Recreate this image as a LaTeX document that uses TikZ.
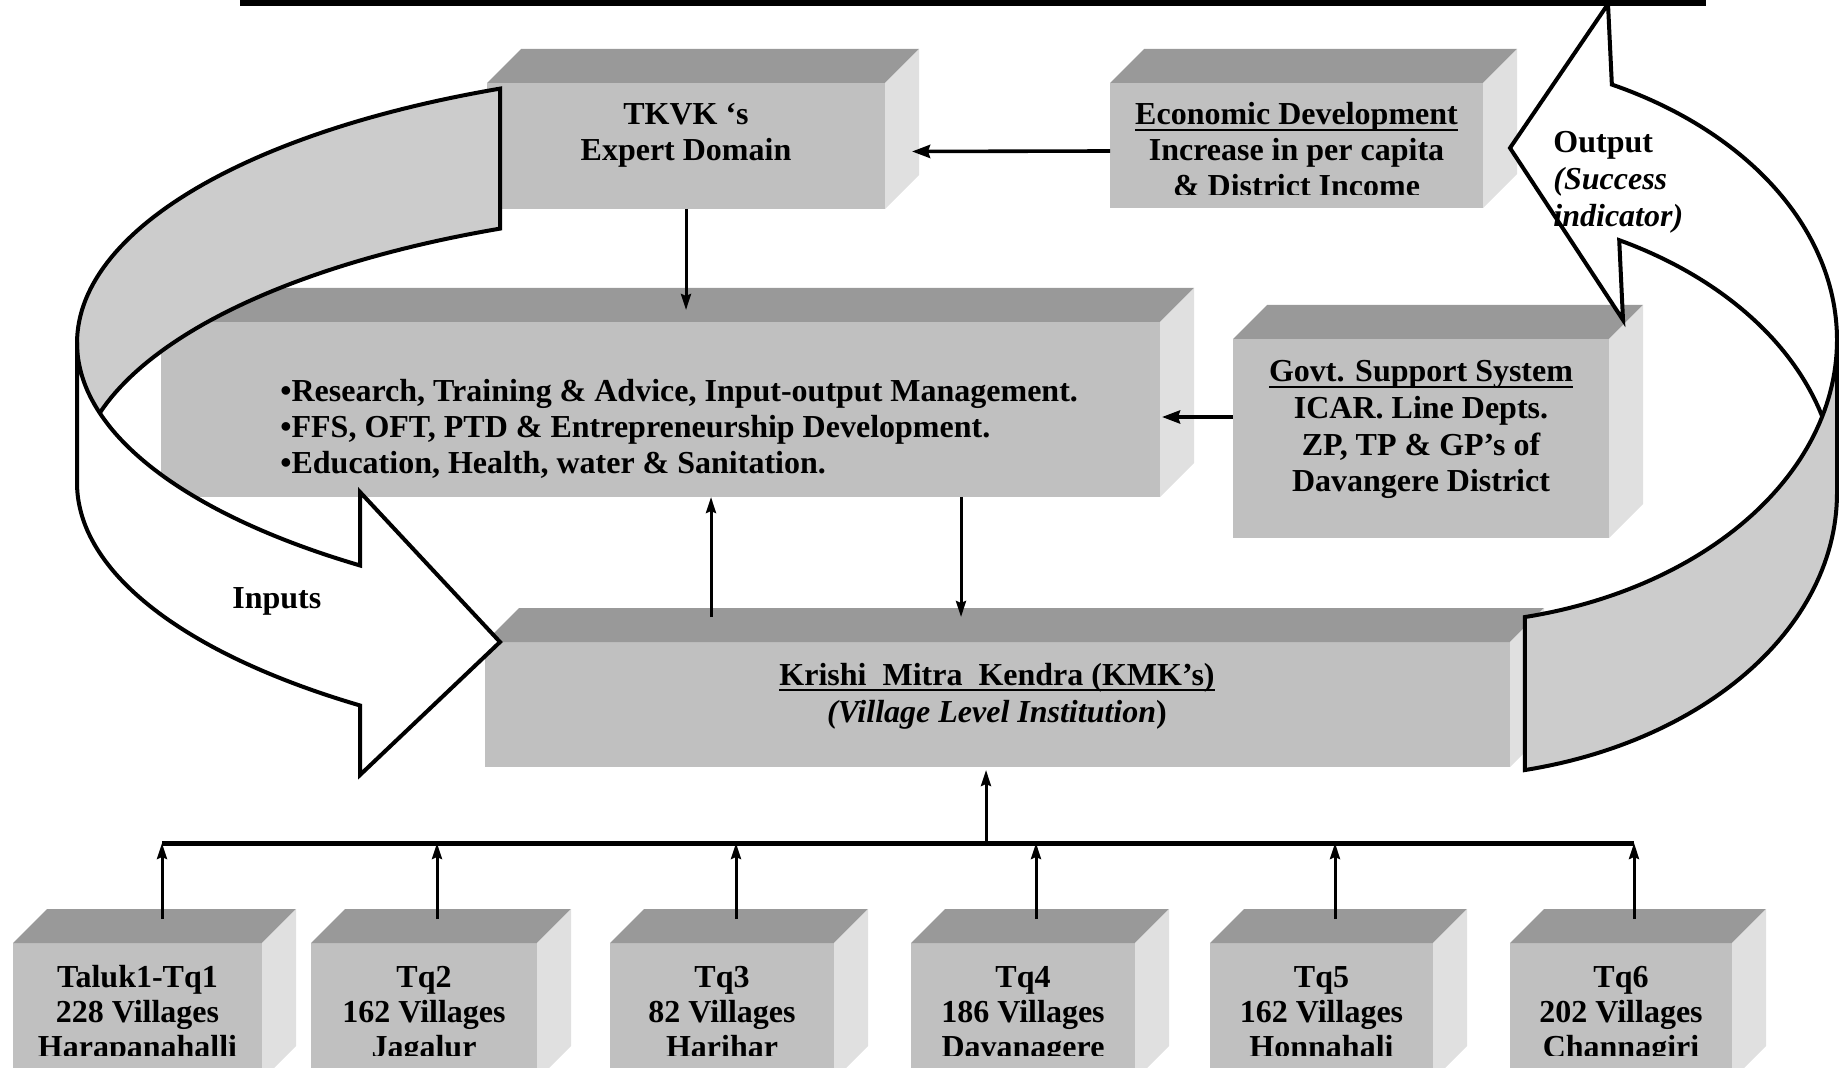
\documentclass[tikz,border=0pt]{standalone}
\usepackage{fontspec}
\setmainfont{Liberation Serif}
\usetikzlibrary{calc,fit,arrows.meta}
\definecolor{frontc}{RGB}{192,192,192}
\definecolor{topc}{RGB}{153,153,153}
\definecolor{sidec}{RGB}{224,224,224}
\definecolor{ringc}{RGB}{204,204,204}
\newcommand\myul[1]{\setbox0=\hbox{#1}\rlap{\rule[-3.2pt]{\wd0}{1pt}}\box0}
\newcommand\threedbox[5]{%
  \coordinate (#1-p) at (#2,#3);
  \coordinate (#1-q) at (#4,#5);
  \node[fit=(#1-p)(#1-q), inner sep=0pt, outer sep=0pt, fill=frontc] (#1) {};
  \fill[topc] (#1.north west) -- ++(34,-34) -- ($(#1.north east)+(34,-34)$) -- (#1.north east) -- cycle;
  \fill[sidec] (#1.north east) -- ++(34,-34) -- ($(#1.south east)+(34,-34)$) -- (#1.south east) -- cycle;
}
\begin{document}
\begin{tikzpicture}[x=0.5pt,y=-0.5pt,
  t/.style={font=\fontsize{16}{18}\selectfont\bfseries, inner sep=0pt, anchor=base},
  tl/.style={t, anchor=base west},
  conn/.style={line width=1.5pt, -{Stealth[length=8pt,width=5pt,inset=1pt]}},
  connh/.style={line width=1.8pt, -{Stealth[length=9pt,width=6.5pt,inset=1pt]}},
  ring/.style={draw=black, line width=2pt}]
\useasboundingbox (0,0) rectangle (1839,1068);
\clip (0,0) rectangle (1839,1068);

% title underline
\fill (240,0) rectangle (1706,6.5);

% boxes
\threedbox{tkvk}{487}{83}{885}{209}
\threedbox{econ}{1110}{83}{1483}{208}
\threedbox{mid}{161}{322}{1160}{497}
\threedbox{govt}{1233}{339}{1609}{538}
\threedbox{kmk}{485}{642}{1510}{767}

% texts
\node[t] (tk1) at (686,125) {TKVK ‘s};
\node[t] (tk2) at (686,161) {Expert Domain};
\begin{scope}
  \clip (1110,49) rectangle (1483,195);
  \node[t] (ec1) at (1296.5,125) {\myul{Economic Development}};
  \node[t] (ec2) at (1296.5,161) {Increase in per capita};
  \node[t] (ec3) at (1296.5,197) {\& District Income};
\end{scope}
\node[tl] (m1) at (280,402) {•Research, Training \& Advice, Input-output Management.};
\node[tl] (m2) at (280,438) {•FFS, OFT, PTD \& Entrepreneurship Development.};
\node[tl] (m3) at (280,474) {•Education, Health, water \& Sanitation.};
\node[t] (g1) at (1421,382) {\myul{Govt. Support System}};
\node[t] (g2) at (1421,419) {ICAR. Line Depts.};
\node[t] (g3) at (1421,456) {ZP, TP \& GP’s of};
\node[t] (g4) at (1421,492) {Davangere District};
\node[t] (k1) at (997,685) {\myul{Krishi\ \ Mitra\ \ Kendra (KMK’s)}};
\node[t] (k2) at (997,722) {{\itshape(Village Level Institution\/})};

% taluk boxes
\foreach \i/\xa/\xb/\ax/\la/\lb/\lc in {
  1/13/262/162/Taluk1-Tq1/228 Villages/Harapanahalli,
  2/311/537/437/Tq2/162 Villages/Jagalur,
  3/610/834/736/Tq3/82 Villages/Harihar,
  4/911/1135/1036/Tq4/186 Villages/Davanagere,
  5/1210/1433/1335/Tq5/162 Villages/Honnahali,
  6/1510/1732/1634/Tq6/202 Villages/Channagiri}{
  \threedbox{tq\i}{\xa}{943}{\xb}{1080}
  \pgfmathsetmacro\cx{(\xa+\xb)/2}
  \begin{scope}
    \clip (\xa,900) rectangle (\xb,1055);
    \node[t] (tq\i-l1) at (\cx,987) {\la};
    \node[t] (tq\i-l2) at (\cx,1022) {\lb};
    \node[t] (tq\i-l3) at (\cx,1057) {\lc};
  \end{scope}
  \coordinate (bus\i) at (\ax,843);
  \draw[conn] ($(bus\i |- tq\i.north)+(0,-24)$) -- (bus\i);
}
\coordinate (busL) at (162,843);
\coordinate (busR) at (1634,843);
\coordinate (busM) at (986,843);
\draw[line width=2.5pt] (busL) -- (busR);
\draw[conn] (busM) -- ($(busM |- kmk.south)+(0,3)$);

% connectors
\draw[conn] (tkvk.south) -- ($(tkvk.south |- mid.north)+(0,-12)$);
\draw[connh] ($(econ.west)+(0,5.5)$) -- ($(tkvk.east)+(27,5.5)$);
\draw[connh] ($(govt.west)+(0,-21.5)$) -- ($(mid.east |- govt.west)+(2,-21.5)$);
\draw[conn] ($(kmk.north west)+(226,-25)$) -- ($(kmk.north west |- mid.south)+(226,0)$);
\draw[conn] ($(kmk.north west |- mid.south)+(476,0)$) -- ($(kmk.north west)+(476,-25)$);

% left ring (Inputs)
\filldraw[ring, fill=ringc] plot[domain=246.69:180, samples=60] ({777+700*cos(\x)},{343+277*sin(\x)})
  -- plot[domain=180:246.69, samples=60] ({777+700*cos(\x)},{483+277*sin(\x)}) -- cycle;
\filldraw[ring, fill=white] (77,343)
  -- plot[domain=180:126.56, samples=60] ({777+700*cos(\x)},{483+277*sin(\x)})
  -- (360,775) -- (500,642) -- (360,492)
  -- plot[domain=126.56:180, samples=60] ({777+700*cos(\x)},{343+277*sin(\x)}) -- cycle;

% right ring (Output)
\filldraw[ring, fill=white] (1608,4) -- (1510,148) -- (1623,320)
  -- plot[domain=-62.9:0, samples=60] ({1437+400*cos(\x)},{493+284*sin(\x)})
  -- plot[domain=0:-64.08, samples=60] ({1437+400*cos(\x)},{340+284*sin(\x)}) -- cycle;
\filldraw[ring, fill=ringc] plot[domain=0:77.3, samples=60] ({1437+400*cos(\x)},{340+284*sin(\x)})
  -- plot[domain=77.3:0, samples=60] ({1437+400*cos(\x)},{493+284*sin(\x)}) -- cycle;

% ring labels
\node[tl] (out1) at (1553,153) {Output};
\node[tl] (out2) at (1553,190) {\itshape (Success};
\node[tl] (out3) at (1553,227) {\itshape indicator)};
\node[tl] (inp) at (232,608) {Inputs};
\end{tikzpicture}
\end{document}
